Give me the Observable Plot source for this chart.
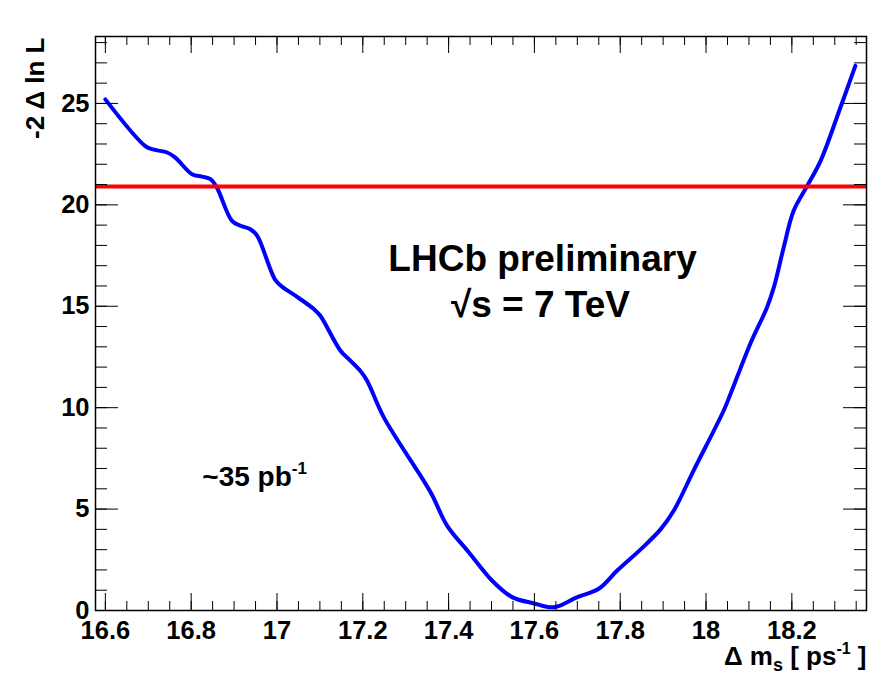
<!DOCTYPE html>
<html>
<head>
<meta charset="utf-8">
<script src="https://cdn.jsdelivr.net/npm/d3@7"></script>
<script src="https://cdn.jsdelivr.net/npm/@observablehq/plot@0.6"></script>
<style>
  body { margin: 0; background: #fff; }
  #chart svg { font-family: "Liberation Sans", Arial, Helvetica, sans-serif; }
</style>
</head>
<body>
<div id="chart"></div>
<script>
// Δm_s scan values [ps^-1]
const dms = [16.600, 16.693, 16.713, 16.744, 16.763, 16.802, 16.825, 16.845, 16.860, 16.895,
             16.915, 16.938, 16.954, 16.996, 17.014, 17.043, 17.086, 17.101, 17.148, 17.171,
             17.194, 17.210, 17.249, 17.358, 17.396, 17.447, 17.501, 17.548, 17.598, 17.645,
             17.700, 17.750, 17.793, 17.847, 17.894, 17.925, 17.971, 18.041, 18.057, 18.103,
             18.142, 18.158, 18.181, 18.204, 18.236, 18.267, 18.313, 18.348];
// -2 Δ ln L values
const nll = [25.2, 22.9, 22.72, 22.58, 22.33, 21.51, 21.39, 21.27, 20.85, 19.21,
             18.97, 18.80, 18.47, 16.30, 15.93, 15.52, 14.86, 14.53, 12.81, 12.32,
             11.82, 11.33, 9.52, 5.83, 4.20, 2.87, 1.48, 0.66, 0.36, 0.16,
             0.66, 1.07, 1.97, 3.00, 4.00, 4.93, 6.90, 9.85, 10.67, 13.14,
             14.94, 15.93, 17.90, 19.70, 20.94, 22.17, 24.79, 26.85];
const threshold = [20.9];
const xTickLabels = [16.6, 16.8, 17, 17.2, 17.4, 17.6, 17.8, 18, 18.2];
const yTickLabels = [0, 5, 10, 15, 20, 25];
const xMinorTicks = d3.range(0, 36).map(i => +(16.6 + 0.05 * i).toFixed(2));
const yMinorTicks = d3.range(0, 29);

const W = 874, H = 673, mL = 95, mR = 8, mT = 36, mB = 63;
const fw = W - mL - mR, fh = H - mT - mB;
const curve = dms.map((x, i) => ({x, y: nll[i]}));
const bold = {fontWeight: "bold", fill: "black"};

const plot = Plot.plot({
  width: W, height: H,
  marginLeft: mL, marginRight: mR, marginTop: mT, marginBottom: mB,
  x: {domain: [16.577, 18.374], axis: null},
  y: {domain: [0, 28.3], axis: null},
  style: {background: "white", fontFamily: "'Liberation Sans', Arial, Helvetica, sans-serif"},
  marks: [
    Plot.line(curve, {x: "x", y: "y", stroke: "#0000ff", strokeWidth: 4, curve: "catmull-rom"}),
    Plot.ruleY(threshold, {y: d => d, stroke: "#ff0000", strokeWidth: 4}),
    // ticks on all four sides, pointing inward
    Plot.tickX(xTickLabels, {x: d => d, insetTop: fh - 17, stroke: "black"}),
    Plot.tickX(xMinorTicks, {x: d => d, insetTop: fh - 9, stroke: "black"}),
    Plot.tickX(xTickLabels, {x: d => d, insetBottom: fh - 17, stroke: "black"}),
    Plot.tickX(xMinorTicks, {x: d => d, insetBottom: fh - 9, stroke: "black"}),
    Plot.tickY(yTickLabels, {y: d => d, insetRight: fw - 23, stroke: "black"}),
    Plot.tickY(yMinorTicks, {y: d => d, insetRight: fw - 12, stroke: "black"}),
    Plot.tickY(yTickLabels, {y: d => d, insetLeft: fw - 23, stroke: "black"}),
    Plot.tickY(yMinorTicks, {y: d => d, insetLeft: fw - 12, stroke: "black"}),
    Plot.frame({stroke: "black", strokeWidth: 1.5}),
    // tick labels
    Plot.text(xTickLabels, {x: d => d, frameAnchor: "bottom", dy: 10, lineAnchor: "top",
      text: d => String(d), fontSize: 25.5, ...bold}),
    Plot.text(yTickLabels, {y: d => d, frameAnchor: "left", dx: -6, textAnchor: "end",
      text: d => String(d), fontSize: 25.5, ...bold}),
    // axis titles
    Plot.text(["-2 Δ ln L"], {frameAnchor: "top-left", dx: -52, dy: 1, rotate: -90,
      textAnchor: "end", lineAnchor: "bottom", text: d => d, fontSize: 26, ...bold}),
    Plot.text(["XTITLE"], {frameAnchor: "bottom-right", dy: 54, textAnchor: "end",
      lineAnchor: "bottom", text: d => d, fontSize: 26, ...bold}),
    // annotations
    Plot.text(["LHCb preliminary"], {x: () => 17.619, y: () => 16.76, textAnchor: "middle",
      lineAnchor: "bottom", text: d => d, fontSize: 37, ...bold}),
    Plot.text(["√s = 7 TeV"], {x: () => 17.614, y: () => 14.45, textAnchor: "middle",
      lineAnchor: "bottom", text: d => d, fontSize: 37, ...bold}),
    Plot.text(["LUMI"], {x: () => 16.826, y: () => 6.16, textAnchor: "start",
      lineAnchor: "bottom", text: d => d, fontSize: 28, ...bold})
  ]
});

// rich text (sub/superscripts) for some labels
function rich(el, parts) {
  const t = d3.select(el);
  t.text("");
  let shift = 0;
  for (const p of parts) {
    const span = t.append("tspan").text(p.t);
    const target = p.sub ? p.sub : (p.sup ? -p.sup : 0);
    const d = target - shift;
    if (d !== 0) span.attr("dy", d);
    shift = target;
    if (p.size) span.attr("font-size", p.size);
  }
}
d3.select(plot).selectAll("text").each(function () {
  const s = this.textContent;
  if (s === "XTITLE") {
    rich(this, [{t: "Δ m"}, {t: "s", sub: 6, size: 18}, {t: " [ ps"}, {t: "-1", sup: 11, size: 16}, {t: " ]"}]);
  } else if (s === "LUMI") {
    rich(this, [{t: "~35 pb"}, {t: "-1", sup: 12, size: 17}]);
  }
});

document.getElementById("chart").appendChild(plot);
</script>
</body>
</html>
